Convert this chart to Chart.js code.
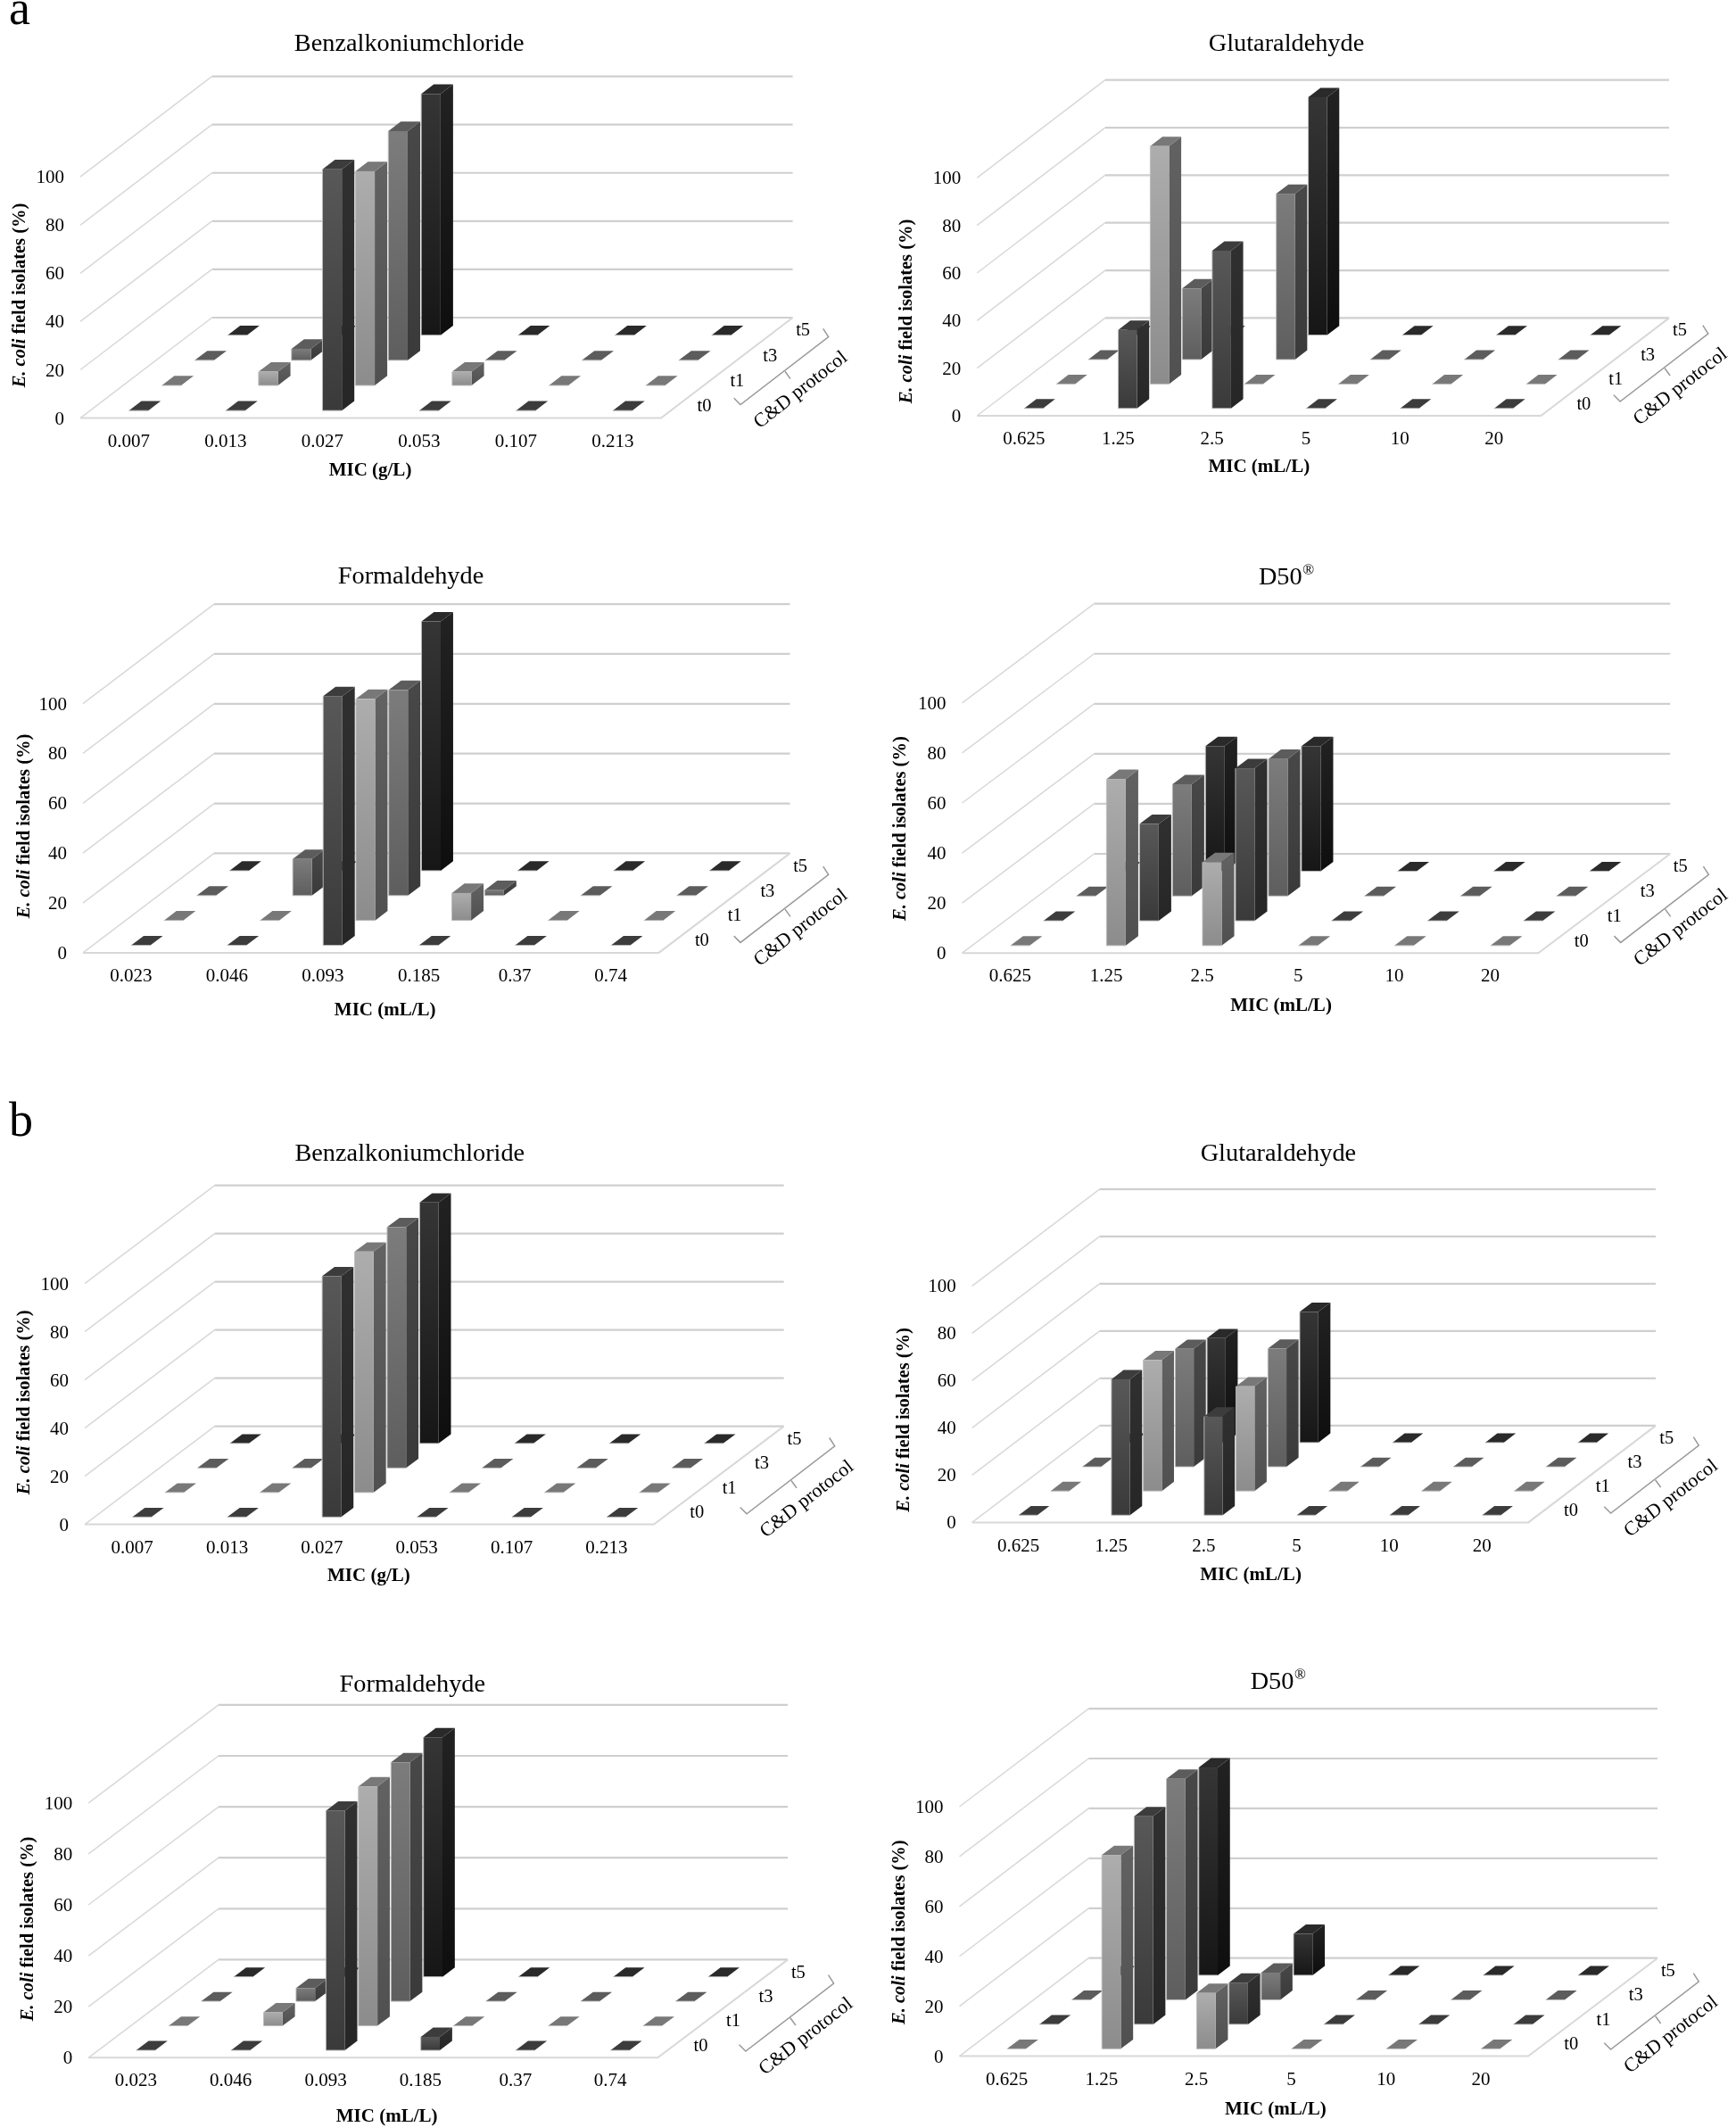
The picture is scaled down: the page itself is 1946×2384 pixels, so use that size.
<!DOCTYPE html>
<html>
<head>
<meta charset="utf-8">
<title>E. coli MIC charts</title>
<script src="https://cdn.jsdelivr.net/npm/chart.js@4/dist/chart.umd.min.js"></script>
<style>
  html, body { margin: 0; background: #fff; }
  #page { position: relative; width: 1946px; height: 2384px; overflow: hidden; }
  #page canvas { position: absolute; }
  .letter { position: absolute; left: 10px; font: 54px/1 'Liberation Serif', serif; color: #000; }
</style>
</head>
<body>
<div id="page">
  <div class="letter" style="top:-18px">a</div>
  <div class="letter" style="top:1228px">b</div>
</div>
<script>
const depths = ['t0', 't1', 't3', 't5'];
const yTicks = [0, 20, 40, 60, 80, 100];

const micBenz = ['0.007', '0.013', '0.027', '0.053', '0.107', '0.213'];
const micForm = ['0.023', '0.046', '0.093', '0.185', '0.37', '0.74'];
const micDil = ['0.625', '1.25', '2.5', '5', '10', '20'];

// panel a
const aBenzT0 = [0, 0, 100, 0, 0, 0];
const aBenzT1 = [0, 5.7, 88.8, 5.7, 0, 0];
const aBenzT3 = [0, 4.8, 95, 0, 0, 0];
const aBenzT5 = [0, 0, 100, 0, 0, 0];

const aGlutT0 = [0, 33, 66.3, 0, 0, 0];
const aGlutT1 = [0, 100, 0, 0, 0, 0];
const aGlutT3 = [0, 29.9, 69.7, 0, 0, 0];
const aGlutT5 = [0, 0, 100, 0, 0, 0];

const aFormT0 = [0, 0, 100, 0, 0, 0];
const aFormT1 = [0, 0, 88.9, 11, 0, 0];
const aFormT3 = [0, 14.7, 82.5, 2.2, 0, 0];
const aFormT5 = [0, 0, 100, 0, 0, 0];

const aD50T0 = [0, 66.6, 33.4, 0, 0, 0];
const aD50T1 = [0, 38.7, 61, 0, 0, 0];
const aD50T3 = [0, 44.7, 54.8, 0, 0, 0];
const aD50T5 = [0, 50, 50, 0, 0, 0];

// panel b
const bBenzT0 = [0, 0, 100, 0, 0, 0];
const bBenzT1 = [0, 0, 100, 0, 0, 0];
const bBenzT3 = [0, 0, 100, 0, 0, 0];
const bBenzT5 = [0, 0, 100, 0, 0, 0];

const bGlutT0 = [0, 57.5, 41.8, 0, 0, 0];
const bGlutT1 = [0, 55.4, 44.3, 0, 0, 0];
const bGlutT3 = [0, 49.9, 50, 0, 0, 0];
const bGlutT5 = [0, 44.2, 55.3, 0, 0, 0];

const bFormT0 = [0, 0, 94.1, 5.3, 0, 0];
const bFormT1 = [0, 5.3, 94, 0, 0, 0];
const bFormT3 = [0, 5.2, 93.8, 0, 0, 0];
const bFormT5 = [0, 0, 94, 0, 0, 0];

const bD50T0 = [0, 77.7, 22.4, 0, 0, 0];
const bD50T1 = [0, 83.4, 16.7, 0, 0, 0];
const bD50T3 = [0, 88.6, 10.9, 0, 0, 0];
const bD50T5 = [0, 83.3, 16.6, 0, 0, 0];

const SERIF = "'Liberation Serif', serif";

const shades = {
  dark: { front: ['#585858', '#3a3a3a'], side: ['#303030', '#262626'], top: '#3c3c3c' },
  light: { front: ['#adadad', '#8c8c8c'], side: ['#626262', '#505050'], top: '#787878' },
  mid: { front: ['#7c7c7c', '#5e5e5e'], side: ['#484848', '#3a3a3a'], top: '#5c5c5c' },
  black: { front: ['#353535', '#161616'], side: ['#222222', '#0e0e0e'], top: '#2a2a2a' }
};
const usualShades = ['dark', 'light', 'mid', 'black'];
const d50Shades = ['light', 'dark', 'mid', 'black'];

const colLeft = [0, 973];
const colRight = [973, 1946];
const rowTop = [0, 600, 1200, 1820];
const rowBottom = [600, 1200, 1820, 2384];

const panels = [
  { col: 0, row: 0, name: 'Benzalkoniumchloride', xTitle: 'MIC (g/L)', labels: micBenz, series: [aBenzT0, aBenzT1, aBenzT3, aBenzT5], tones: usualShades,
    left: 90, right: 741, zero: 468.6, full: 198.2, backLeft: 237.6, backZero: 356, titlePos: [458.7, 49], xTitlePos: [415, 527], yTitlePos: [22.6, 331], brace: [89, -15] },
  { col: 1, row: 0, name: 'Glutaraldehyde', xTitle: 'MIC (mL/L)', labels: micDil, series: [aGlutT0, aGlutT1, aGlutT3, aGlutT5], tones: usualShades,
    left: 1095.2, right: 1727.4, zero: 466, full: 199.3, backLeft: 1238.8, backZero: 356.4, titlePos: [1442, 49], xTitlePos: [1411.3, 523], yTitlePos: [1017, 349], brace: [88.7, -16] },
  { col: 0, row: 1, name: 'Formaldehyde', xTitle: 'MIC (mL/L)', labels: micForm, series: [aFormT0, aFormT1, aFormT3, aFormT5], tones: usualShades,
    left: 93, right: 738.5, zero: 1067.9, full: 788.6, backLeft: 240, backZero: 956.4, titlePos: [460.5, 645.7], xTitlePos: [431.7, 1132], yTitlePos: [27.5, 926], brace: [91.5, -11.5] },
  { col: 1, row: 1, name: 'D50', reg: true, xTitle: 'MIC (mL/L)', labels: micDil, series: [aD50T0, aD50T1, aD50T3, aD50T5], tones: d50Shades,
    left: 1078.6, right: 1724.3, zero: 1068.2, full: 787.9, backLeft: 1226.5, backZero: 957, titlePos: [1443.3, 646.4], xTitlePos: [1436, 1127], yTitlePos: [1009.6, 928.6], brace: [92.4, -11.8] },
  { col: 0, row: 2, name: 'Benzalkoniumchloride', xTitle: 'MIC (g/L)', labels: micBenz, series: [bBenzT0, bBenzT1, bBenzT3, bBenzT5], tones: usualShades,
    left: 95, right: 733, zero: 1708.6, full: 1438.6, backLeft: 240.7, backZero: 1598.6, titlePos: [459.3, 1292.5], xTitlePos: [413.4, 1765.7], yTitlePos: [27.6, 1571.8], brace: [104, -11.8] },
  { col: 1, row: 2, name: 'Glutaraldehyde', xTitle: 'MIC (mL/L)', labels: micDil, series: [bGlutT0, bGlutT1, bGlutT3, bGlutT5], tones: usualShades,
    left: 1089.7, right: 1713.2, zero: 1706.4, full: 1441.4, backLeft: 1232.6, backZero: 1597.9, titlePos: [1432.9, 1292.5], xTitlePos: [1402, 1764.6], yTitlePos: [1013.9, 1591.4], brace: [92.4, -10.4] },
  { col: 0, row: 3, name: 'Formaldehyde', xTitle: 'MIC (mL/L)', labels: micForm, series: [bFormT0, bFormT1, bFormT3, bFormT5], tones: usualShades,
    left: 99.2, right: 737.3, zero: 2306.3, full: 2020.8, backLeft: 245, backZero: 2196.4, titlePos: [462.3, 1887.6], xTitlePos: [433.6, 2371.3], yTitlePos: [31.8, 2162], brace: [98.6, -7.3] },
  { col: 1, row: 3, name: 'D50', reg: true, xTitle: 'MIC (mL/L)', labels: micDil, series: [bD50T0, bD50T1, bD50T3, bD50T5], tones: d50Shades,
    left: 1075.5, right: 1713.2, zero: 2304.6, full: 2025, backLeft: 1220.3, backZero: 2194.7, titlePos: [1434, 1884.8], xTitlePos: [1429.8, 2363.6], yTitlePos: [1009, 2165.7], brace: [92.4, -7.6] }
];

const Y_AXIS_W = 60;
const X_AXIS_H = 40;

function poly(ctx, pts) {
  ctx.beginPath();
  pts.forEach((p, i) => (i ? ctx.lineTo(p[0], p[1]) : ctx.moveTo(p[0], p[1])));
  ctx.closePath();
}

function vGrad(ctx, top, bottom, stops) {
  const g = ctx.createLinearGradient(0, top, 0, Math.max(bottom, top + 1));
  g.addColorStop(0, stops[0]);
  g.addColorStop(1, stops[1]);
  return g;
}

function line(ctx, pts, color, width) {
  ctx.strokeStyle = color;
  ctx.lineWidth = width;
  ctx.beginPath();
  pts.forEach((p, i) => (i ? ctx.lineTo(p[0], p[1]) : ctx.moveTo(p[0], p[1])));
  ctx.stroke();
}

// the fake 3d: each series sits one step further back on the floor
const box3d = {
  id: 'box3d',
  beforeDatasetsDraw(chart, args, opts) {
    const { ctx, chartArea } = chart;
    const y = chart.scales.y;
    const { dx, dy } = opts;
    yTicks.forEach(v => {
      const py = y.getPixelForValue(v);
      line(ctx, [[chartArea.left, py], [chartArea.left + dx, py - dy]], '#d8d8d8', 1.5);
      line(ctx, [[chartArea.left + dx, py - dy], [chartArea.right + dx, py - dy]], '#cfcfcf', 2.2);
    });
    const y0 = y.getPixelForValue(0);
    line(ctx, [[chartArea.left, y0], [chartArea.right, y0], [chartArea.right + dx, y0 - dy]], '#d8d8d8', 2);
  },
  beforeDatasetDraw(chart, args, opts) {
    const { ctx } = chart;
    const stepX = opts.dx / depths.length;
    const stepY = opts.dy / depths.length;
    const shade = shades[chart.data.datasets[args.index].shade];
    const f = args.index + 0.3;
    const sideX = stepX * 0.38;
    const sideY = stepY * 0.38;
    args.meta.data.forEach(el => {
      const x0 = el.x - el.width / 2 + f * stepX;
      const x1 = x0 + el.width;
      const yb = el.base - f * stepY;
      const yt = el.y - f * stepY;
      ctx.fillStyle = vGrad(ctx, yt - sideY, yb, shade.side);
      poly(ctx, [[x1, yt], [x1 + sideX, yt - sideY], [x1 + sideX, yb - sideY], [x1, yb]]);
      ctx.fill();
      ctx.fillStyle = shade.top;
      poly(ctx, [[x0, yt], [x0 + sideX, yt - sideY], [x1 + sideX, yt - sideY], [x1, yt]]);
      ctx.fill();
      ctx.fillStyle = vGrad(ctx, yt, yb, shade.front);
      ctx.fillRect(x0, yt, el.width, yb - yt);
      line(ctx, [[x0, yt], [x0, yb], [x1, yb]], 'rgba(190,190,190,0.9)', 1);
    });
    return false;
  },
  afterDraw(chart, args, opts) {
    const { ctx, chartArea } = chart;
    const p = opts.panel;
    const ox = colLeft[p.col];
    const oy = rowTop[p.row];
    const y0 = chart.scales.y.getPixelForValue(0);
    ctx.save();
    ctx.fillStyle = '#000';
    ctx.textBaseline = 'middle';

    // panel title
    ctx.textAlign = 'center';
    ctx.font = `28.3px ${SERIF}`;
    const tx = p.titlePos[0] - ox;
    const ty = p.titlePos[1] - oy + 1;
    if (p.reg) {
      const w = ctx.measureText(p.name).width;
      ctx.fillText(p.name, tx - 8, ty);
      ctx.font = `17px ${SERIF}`;
      ctx.fillText('\u00AE', tx - 8 + w / 2 + 7, ty - 8);
    } else {
      ctx.fillText(p.name, tx, ty);
    }

    // x axis title
    ctx.font = `bold 21px ${SERIF}`;
    ctx.fillText(p.xTitle, p.xTitlePos[0] - ox, p.xTitlePos[1] - oy + 1);

    // y axis title, italic species name then the rest
    ctx.save();
    ctx.translate(p.yTitlePos[0] - ox, p.yTitlePos[1] - oy);
    ctx.rotate(-Math.PI / 2);
    ctx.textAlign = 'left';
    const itFont = `italic bold 20.5px ${SERIF}`;
    const bdFont = `bold 20.5px ${SERIF}`;
    const species = 'E. coli';
    const rest = ' field isolates (%)';
    ctx.font = itFont;
    const w1 = ctx.measureText(species).width;
    ctx.font = bdFont;
    const w2 = ctx.measureText(rest).width;
    ctx.font = itFont;
    ctx.fillText(species, -(w1 + w2) / 2, 0);
    ctx.font = bdFont;
    ctx.fillText(rest, -(w1 + w2) / 2 + w1, 0);
    ctx.restore();

    // depth labels next to the floor's right edge
    const stepX = opts.dx / depths.length;
    const stepY = opts.dy / depths.length;
    ctx.textAlign = 'center';
    ctx.font = `20.5px ${SERIF}`;
    depths.forEach((d, i) => {
      ctx.fillText(d, chartArea.right + (i + 0.5) * stepX + 30, y0 - (i + 0.5) * stepY + 1);
    });

    // bracket + C&D protocol
    const bx = chartArea.right + p.brace[0];
    const by = y0 + p.brace[1];
    line(ctx, [[bx - 7.3, by - 7.3], [bx, by], [bx + 98.7, by - 76], [bx + 92.7, by - 85.3]], '#999999', 1.5);
    line(ctx, [[bx + 50, by - 37.3], [bx + 56, by - 29]], '#999999', 1.5);
    ctx.translate(bx + 67.7, by - 16.3);
    ctx.rotate(-38 * Math.PI / 180);
    ctx.font = `22px ${SERIF}`;
    ctx.fillText('C&D protocol', 0, 0);
    ctx.restore();
  }
};

function buildChart(p) {
  const cLeft = colLeft[p.col];
  const cTop = rowTop[p.row];
  const cw = colRight[p.col] - cLeft;
  const ch = rowBottom[p.row] - cTop;

  const canvas = document.createElement('canvas');
  canvas.width = cw;
  canvas.height = ch;
  canvas.style.left = cLeft + 'px';
  canvas.style.top = cTop + 'px';
  canvas.style.width = cw + 'px';
  canvas.style.height = ch + 'px';
  document.getElementById('page').appendChild(canvas);

  return new Chart(canvas, {
    type: 'bar',
    data: {
      labels: p.labels,
      datasets: depths.map((d, i) => ({
        label: d,
        data: p.series[i],
        shade: p.tones[i],
        backgroundColor: shades[p.tones[i]].front[0],
        grouped: false,
        barPercentage: 0.2,
        categoryPercentage: 1
      }))
    },
    options: {
      responsive: false,
      animation: false,
      events: [],
      layout: {
        padding: {
          left: p.left - cLeft - Y_AXIS_W,
          right: colRight[p.col] - p.right,
          top: p.full - cTop,
          bottom: rowBottom[p.row] - p.zero - X_AXIS_H
        }
      },
      plugins: {
        legend: { display: false },
        tooltip: { enabled: false },
        title: { display: false },
        box3d: { dx: p.backLeft - p.left, dy: p.zero - p.backZero, panel: p }
      },
      scales: {
        x: {
          grid: { display: false, drawTicks: false },
          border: { display: false },
          afterFit: s => { s.height = X_AXIS_H; },
          ticks: { color: '#000', padding: 14, maxRotation: 0, autoSkip: false, font: { family: SERIF, size: 21 } }
        },
        y: {
          min: 0,
          max: 100,
          grid: { display: false, drawTicks: false },
          border: { display: false },
          afterFit: s => { s.width = Y_AXIS_W; },
          afterBuildTicks: s => { s.ticks = yTicks.map(v => ({ value: v })); },
          ticks: { color: '#000', padding: 18, labelOffset: 1.5, font: { family: SERIF, size: 21 } }
        }
      }
    },
    plugins: [box3d]
  });
}

panels.forEach(buildChart);
</script>
</body>
</html>
